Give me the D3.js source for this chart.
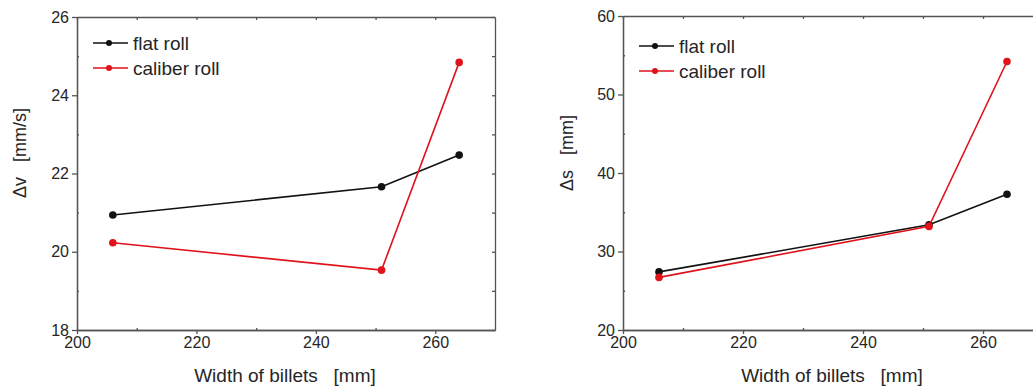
<!DOCTYPE html>
<html>
<head>
<meta charset="utf-8">
<script src="https://cdn.jsdelivr.net/npm/d3@7"></script>
<style>
  body { margin: 0; background: #fff; }
  svg text { font-family: "Liberation Sans", Arial, sans-serif; fill: #262626; }
</style>
</head>
<body>
<svg id="chart" width="1033" height="389"></svg>
<script>
// billet widths (shared x values)
const widths = [206, 251, 264];

// left panel: delta v [mm/s]
const dvFlat = [20.94, 21.66, 22.47];
const dvCaliber = [20.23, 19.53, 24.84];
const dvTicks = [18, 20, 22, 24, 26];

// right panel: delta s [mm]
const dsFlat = [27.4, 33.4, 37.3];
const dsCaliber = [26.7, 33.2, 54.2];
const dsTicks = [20, 30, 40, 50, 60];

const xTicks = [200, 220, 240, 260];
const seriesNames = ["flat roll", "caliber roll"];
const colors = ["#111", "#e0121b"];

const svg = d3.select("#chart");

function drawPanel(opt) {
	const x = d3.scaleLinear().domain([200, 270]).range([opt.left, opt.right]);
	const y = d3.scaleLinear().domain(opt.yDomain).range([opt.bottom, opt.top]);
	const g = svg.append("g");
	const axisColor = "#555";

	// minor ticks
	const xMinor = d3.range(210, 270, 20);
	const yMinor = d3.range(opt.yDomain[0] + opt.yStep / 2, opt.yDomain[1], opt.yStep);

	// bottom axis
	const bottomAxis = g.append("g")
		.attr("transform", `translate(0, ${opt.bottom})`)
		.call(d3.axisBottom(x).tickValues(xTicks).tickSize(4).tickSizeOuter(0).tickPadding(3));
	bottomAxis.selectAll("text").style("font-size", "16px");

	// left axis
	const leftAxis = g.append("g")
		.attr("transform", `translate(${opt.left}, 0)`)
		.call(d3.axisLeft(y).tickValues(opt.yTicks).tickSize(5).tickSizeOuter(0).tickPadding(3));
	leftAxis.selectAll("text").style("font-size", "16px");

	// top axis (inward ticks, no labels)
	g.append("g")
		.attr("transform", `translate(0, ${opt.top})`)
		.call(d3.axisBottom(x).tickValues(xTicks.concat(xMinor)).tickSize(3).tickSizeOuter(0).tickFormat(""));

	// right axis (inward ticks, no labels)
	g.append("g")
		.attr("transform", `translate(${opt.right}, 0)`)
		.call(d3.axisLeft(y).tickValues(opt.yTicks.concat(yMinor)).tickSize(3).tickSizeOuter(0).tickFormat(""));

	// minor ticks on bottom/left (small, inward)
	g.append("g")
		.attr("transform", `translate(0, ${opt.bottom})`)
		.call(d3.axisTop(x).tickValues(xMinor).tickSize(2).tickSizeOuter(0).tickFormat(""));
	g.append("g")
		.attr("transform", `translate(${opt.left}, 0)`)
		.call(d3.axisRight(y).tickValues(yMinor).tickSize(2).tickSizeOuter(0).tickFormat(""));

	g.selectAll(".domain, .tick line").attr("stroke", axisColor).attr("stroke-width", 1.3);

	// series
	const line = d3.line().x((d) => x(d[0])).y((d) => y(d[1]));
	opt.series.forEach((vals, i) => {
		const pts = widths.map((w, j) => [w, vals[j]]);
		g.append("path")
			.datum(pts)
			.attr("d", line)
			.attr("fill", "none")
			.attr("stroke", colors[i])
			.attr("stroke-width", 1.6);
		g.selectAll(null)
			.data(pts)
			.join("circle")
			.attr("cx", (d) => x(d[0]))
			.attr("cy", (d) => y(d[1]))
			.attr("r", 3.8)
			.attr("fill", colors[i]);
	});

	// legend
	seriesNames.forEach((name, i) => {
		const ly = opt.legendY + i * 25;
		const lx = opt.left + 16;
		g.append("line")
			.attr("x1", lx).attr("x2", lx + 35)
			.attr("y1", ly).attr("y2", ly)
			.attr("stroke", colors[i]).attr("stroke-width", 1.6);
		g.append("circle")
			.attr("cx", lx + 16).attr("cy", ly).attr("r", 3)
			.attr("fill", colors[i]);
		g.append("text")
			.attr("x", lx + 40).attr("y", ly + 7)
			.style("font-size", "19px")
			.text(name);
	});

	// axis titles
	g.append("text")
		.attr("x", opt.xTitleX)
		.attr("y", 382)
		.attr("text-anchor", "middle")
		.style("font-size", "19px")
		.attr("xml:space", "preserve")
		.text("Width of billets   [mm]");

	g.append("text")
		.attr("transform", `translate(${opt.yTitleX}, ${opt.yTitleY}) rotate(-90)`)
		.attr("text-anchor", "middle")
		.style("font-size", "18px")
		.attr("xml:space", "preserve")
		.text(opt.yTitle);
}

drawPanel({
	left: 77, right: 495, top: 17, bottom: 330,
	yDomain: [18, 26], yTicks: dvTicks, yStep: 2,
	series: [dvFlat, dvCaliber],
	legendY: 43,
	xTitleX: 285, yTitleX: 26, yTitleY: 153,
	yTitle: "\u0394v   [mm/s]"
});

drawPanel({
	left: 623, right: 1043, top: 16, bottom: 330,
	yDomain: [20, 60], yTicks: dsTicks, yStep: 10,
	series: [dsFlat, dsCaliber],
	legendY: 46,
	xTitleX: 832, yTitleX: 573, yTitleY: 153,
	yTitle: "\u0394s   [mm]"
});
</script>
</body>
</html>
